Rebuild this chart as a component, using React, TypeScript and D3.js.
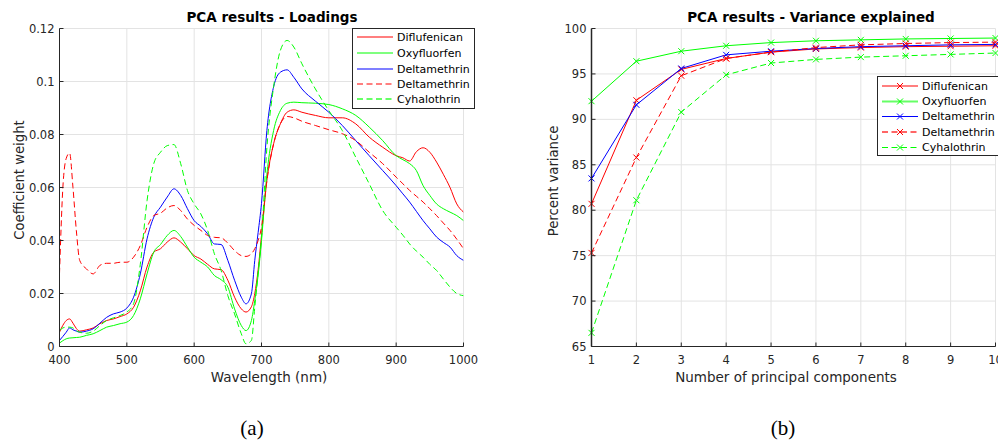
import React from "react";
import * as d3 from "d3";

// ---------- Data: loadings (panel a) ----------
const wavelengths = [400,405,410,415,420,425,430,440,450,460,470,480,490,500,510,520,530,540,550,560,570,580,590,600,610,620,630,640,650,660,670,677,685,690,695,700,708,718,728,738,748,760,780,800,820,840,860,880,900,910,920,930,940,950,960,970,980,990,1000];

const loadDiflufenican = [.0054,.008,.0098,.0104,.0088,.0068,.0058,.0063,.0070,.0086,.0098,.0104,.0113,.0123,.0148,.021,.030,.0356,.0369,.0394,.041,.0394,.0369,.0343,.033,.031,.0293,.029,.025,.0186,.0142,.0130,.0150,.020,.029,.042,.0626,.0765,.084,.0884,.0893,.0884,.0872,.0863,.0863,.084,.079,.0752,.072,.0712,.0700,.0735,.0750,.0733,.0696,.065,.060,.0538,.0507];
const loadOxyfluorfen = [.0013,.0022,.0029,.0032,.0033,.0034,.0035,.0042,.0048,.006,.0073,.0079,.0086,.0092,.0117,.018,.0274,.0356,.0385,.0419,.0438,.0415,.0375,.0337,.0318,.030,.0268,.0252,.0224,.0142,.0079,.006,.0098,.0174,.027,.040,.065,.0815,.089,.0918,.0922,.092,.0918,.0913,.0897,.0872,.0828,.0777,.072,.0705,.069,.0664,.0607,.057,.0538,.052,.0507,.0494,.0475];
const loadDeltamethrin = [.0023,.0038,.0054,.007,.0063,.0058,.0054,.0058,.0067,.0088,.011,.0123,.013,.0145,.0186,.0274,.0406,.0488,.0526,.0564,.0595,.057,.052,.0475,.0453,.0425,.0387,.0385,.0325,.025,.0186,.0161,.0199,.0325,.043,.054,.0815,.098,.1035,.1044,.1016,.0972,.0926,.0884,.0834,.0777,.072,.0664,.0607,.0576,.0545,.051,.0475,.0444,.0413,.0393,.0375,.0343,.0325];
const loadDeltamethrin2 = [.0274,.060,.071,.073,.060,.0438,.0325,.0293,.0274,.0306,.0314,.0314,.0318,.0318,.0337,.0381,.045,.0494,.0503,.0523,.0532,.0513,.0481,.0457,.0438,.0419,.0412,.041,.039,.0362,.0343,.0340,.0350,.0369,.040,.045,.0626,.0765,.084,.0868,.0863,.085,.0834,.0818,.0803,.0777,.0733,.069,.0639,.0614,.0589,.0567,.0545,.052,.0494,.0466,.0438,.0405,.0369];
const loadCyhalothrin = [.006,.007,.0073,.0073,.007,.006,.0054,.005,.0058,.0079,.0098,.0108,.0117,.013,.0161,.031,.055,.069,.0733,.0758,.0762,.069,.0589,.0538,.050,.0438,.035,.0287,.0192,.0123,.0048,.001,.0023,.0148,.028,.041,.075,.098,.1117,.1155,.113,.1067,.0972,.089,.0815,.0714,.0614,.0513,.045,.042,.0387,.036,.0337,.031,.0287,.0255,.0224,.020,.0192];

const loadXTicks = [400,500,600,700,800,900,1000];
const loadYTicks = [0,0.02,0.04,0.06,0.08,0.1,0.12];

// ---------- Data: variance explained (panel b) ----------
const components = [1,2,3,4,5,6,7,8,9,10];
const varDiflufenican = [80.7,92.1,95.5,96.7,97.4,97.75,97.9,98.0,98.05,98.1];
const varOxyfluorfen = [92.0,96.4,97.5,98.1,98.45,98.65,98.75,98.85,98.9,98.95];
const varDeltamethrin = [83.5,91.6,95.6,97.1,97.5,97.8,98.0,98.1,98.2,98.25];
const varDeltamethrin2 = [75.3,85.8,94.8,96.7,97.4,97.9,98.2,98.35,98.45,98.5];
const varCyhalothrin = [66.5,81.1,90.8,94.9,96.2,96.6,96.85,97.0,97.15,97.3];

const varXTicks = [1,2,3,4,5,6,7,8,9,10];
const varYTicks = [65,70,75,80,85,90,95,100];

const seriesNames = ["Diflufenican","Oxyfluorfen","Deltamethrin","Deltamethrin","Cyhalothrin"];
const seriesColors = ["#ff0000","#00ff00","#0000ff","#ff0000","#00ff00"];
const seriesDashed = [false,false,false,true,true];

const FONT = "'DejaVu Sans', Verdana, sans-serif";
const SERIF = "'Liberation Serif', 'DejaVu Serif', serif";
const GRID = "#e3e3e3";
const AXIS = "#262626";
const DASH = "6,3.5";
const TICK_FS = 11.5;

function XMark({ x, y, color }: { x: number; y: number; color: string }) {
  const s = 3;
  return (
    <path d={`M${x - s},${y - s}L${x + s},${y + s}M${x - s},${y + s}L${x + s},${y - s}`} stroke={color} strokeWidth={1} fill="none" />
  );
}

function Legend({ x, y, w, h, rowY, lineX0, lineX1, textX, markers, soft }: any) {
  return (
    <g>
      <rect x={x} y={y} width={w} height={h} fill="#fff" stroke={AXIS} strokeWidth={1} />
      {seriesNames.map((n, i) => {
        const isSoft = soft.includes(i);
        return (
          <g key={i}>
            <line x1={lineX0} x2={lineX1} y1={rowY[i]} y2={rowY[i]} stroke={seriesColors[i]}
              strokeWidth={isSoft ? 2 : 1.2} strokeOpacity={isSoft ? 0.6 : 1}
              strokeDasharray={seriesDashed[i] ? DASH : undefined} />
            {markers && <XMark x={(lineX0 + lineX1) / 2} y={rowY[i]} color={seriesColors[i]} />}
            <text x={textX} y={rowY[i]} dy="0.36em" fontSize={11} fontFamily={FONT} fill="#000">{n}</text>
          </g>
        );
      })}
    </g>
  );
}

export default function App() {
  // Panel a scales
  const ax = d3.scaleLinear().domain([400, 1000]).range([59.5, 463.5]);
  const ay = d3.scaleLinear().domain([0, 0.12]).range([346.5, 28.5]);
  const loadSeries = [loadDiflufenican, loadOxyfluorfen, loadDeltamethrin, loadDeltamethrin2, loadCyhalothrin];
  const aLine = d3.line<number>().x((_, i) => ax(wavelengths[i])).y((d) => ay(d)).curve(d3.curveMonotoneX);

  // Panel b scales
  const bx = d3.scaleLinear().domain([1, 10]).range([591.5, 995.5]);
  const by = d3.scaleLinear().domain([65, 100]).range([346.5, 28.5]);
  const varSeries = [varDiflufenican, varOxyfluorfen, varDeltamethrin, varDeltamethrin2, varCyhalothrin];
  const bLine = d3.line<number>().x((_, i) => bx(components[i])).y((d) => by(d));

  const fmtA = (v: number) => (v === 0 ? "0" : String(+v.toFixed(2)));

  return (
    <svg width={998} height={444} style={{ position: "absolute", left: 0, top: 0, background: "#fff" }} fontFamily={FONT}>
      <rect width={998} height={444} fill="#fff" />
      {/* ---------- Panel a ---------- */}
      <g>
        {loadXTicks.map((t) => (
          <line key={"gx" + t} x1={ax(t)} x2={ax(t)} y1={ay(0)} y2={ay(0.12)} stroke={GRID} strokeWidth={1} />
        ))}
        {loadYTicks.map((t) => (
          <line key={"gy" + t} x1={ax(400)} x2={ax(1000)} y1={ay(t)} y2={ay(t)} stroke={GRID} strokeWidth={1} />
        ))}
        <defs>
          <clipPath id="clipA">
            <rect x={ax(400)} y={ay(0.12) - 2} width={ax(1000) - ax(400)} height={ay(0) - ay(0.12) + 2} />
          </clipPath>
        </defs>
        <g clipPath="url(#clipA)">
          {loadSeries.map((s, i) => (
            <path key={i} d={aLine(s) || ""} fill="none" stroke={seriesColors[i]} strokeWidth={1} strokeDasharray={seriesDashed[i] ? DASH : undefined} />
          ))}
        </g>
        <line x1={ax(400)} x2={ax(400)} y1={ay(0)} y2={ay(0.12)} stroke={AXIS} strokeWidth={1} />
        <line x1={ax(400)} x2={ax(1000)} y1={ay(0)} y2={ay(0)} stroke={AXIS} strokeWidth={1} />
        {loadXTicks.map((t) => (
          <g key={"tx" + t}>
            <line x1={ax(t)} x2={ax(t)} y1={ay(0)} y2={ay(0) - 4} stroke={AXIS} />
            <text x={ax(t)} y={ay(0) + 17} textAnchor="middle" fontSize={TICK_FS} fill="#262626">{t}</text>
          </g>
        ))}
        {loadYTicks.map((t) => (
          <g key={"ty" + t}>
            <line x1={ax(400)} x2={ax(400) + 4} y1={ay(t)} y2={ay(t)} stroke={AXIS} />
            <text x={ax(400) - 5} y={ay(t)} dy="0.36em" textAnchor="end" fontSize={TICK_FS} fill="#262626">{fmtA(t)}</text>
          </g>
        ))}
        <text x={269} y={382} textAnchor="middle" fontSize={13.5} fill="#262626">Wavelength (nm)</text>
        <text transform={`translate(24,180) rotate(-90)`} textAnchor="middle" fontSize={13.2} fill="#262626">Coefficient weight</text>
        <text x={272} y={22} textAnchor="middle" fontSize={13.5} fontWeight="bold" fill="#000">PCA results - Loadings</text>
        <Legend x={352.5} y={28.5} w={122} h={80} rowY={[37, 53, 69, 84, 99]} lineX0={357} lineX1={393} textX={397} markers={false} soft={[4]} />
        <text x={252} y={435} textAnchor="middle" fontSize={21} fontFamily={SERIF} fill="#000">(a)</text>
      </g>

      {/* ---------- Panel b ---------- */}
      <g>
        {varXTicks.map((t) => (
          <line key={"bgx" + t} x1={bx(t)} x2={bx(t)} y1={by(65)} y2={by(100)} stroke={GRID} strokeWidth={1} />
        ))}
        {varYTicks.map((t) => (
          <line key={"bgy" + t} x1={bx(1)} x2={bx(10)} y1={by(t)} y2={by(t)} stroke={GRID} strokeWidth={1} />
        ))}
        {varSeries.map((s, i) => (
          <g key={i}>
            <path d={bLine(s) || ""} fill="none" stroke={seriesColors[i]} strokeWidth={1} strokeDasharray={seriesDashed[i] ? DASH : undefined} />
            {s.map((v, j) => (
              <XMark key={j} x={bx(components[j])} y={by(v)} color={seriesColors[i]} />
            ))}
          </g>
        ))}
        <line x1={bx(1)} x2={bx(1)} y1={by(65)} y2={by(100)} stroke={AXIS} strokeWidth={1.5} />
        <line x1={bx(1)} x2={bx(10)} y1={by(65)} y2={by(65)} stroke={AXIS} strokeWidth={1} />
        {varXTicks.map((t) => (
          <g key={"btx" + t}>
            <line x1={bx(t)} x2={bx(t)} y1={by(65)} y2={by(65) - 4} stroke={AXIS} />
            <text x={bx(t)} y={by(65) + 17} textAnchor="middle" fontSize={TICK_FS} fill="#262626">{t}</text>
          </g>
        ))}
        {varYTicks.map((t) => (
          <g key={"bty" + t}>
            <line x1={bx(1)} x2={bx(1) + 4} y1={by(t)} y2={by(t)} stroke={AXIS} />
            <text x={bx(1) - 5} y={by(t)} dy="0.36em" textAnchor="end" fontSize={TICK_FS} fill="#262626">{t}</text>
          </g>
        ))}
        <text x={786} y={382} textAnchor="middle" fontSize={13.5} fill="#262626">Number of principal components</text>
        <text transform={`translate(558,181) rotate(-90)`} textAnchor="middle" fontSize={13.2} fill="#262626">Percent variance</text>
        <text x={811} y={22} textAnchor="middle" fontSize={13.5} fontWeight="bold" fill="#000">PCA results - Variance explained</text>
        <Legend x={877.5} y={76.5} w={125} h={79} rowY={[86, 101.5, 116.5, 132, 147.5]} lineX0={882} lineX1={918} textX={922} markers={true} soft={[1, 3]} />
        <text x={783} y={435} textAnchor="middle" fontSize={21} fontFamily={SERIF} fill="#000">(b)</text>
      </g>
    </svg>
  );
}
